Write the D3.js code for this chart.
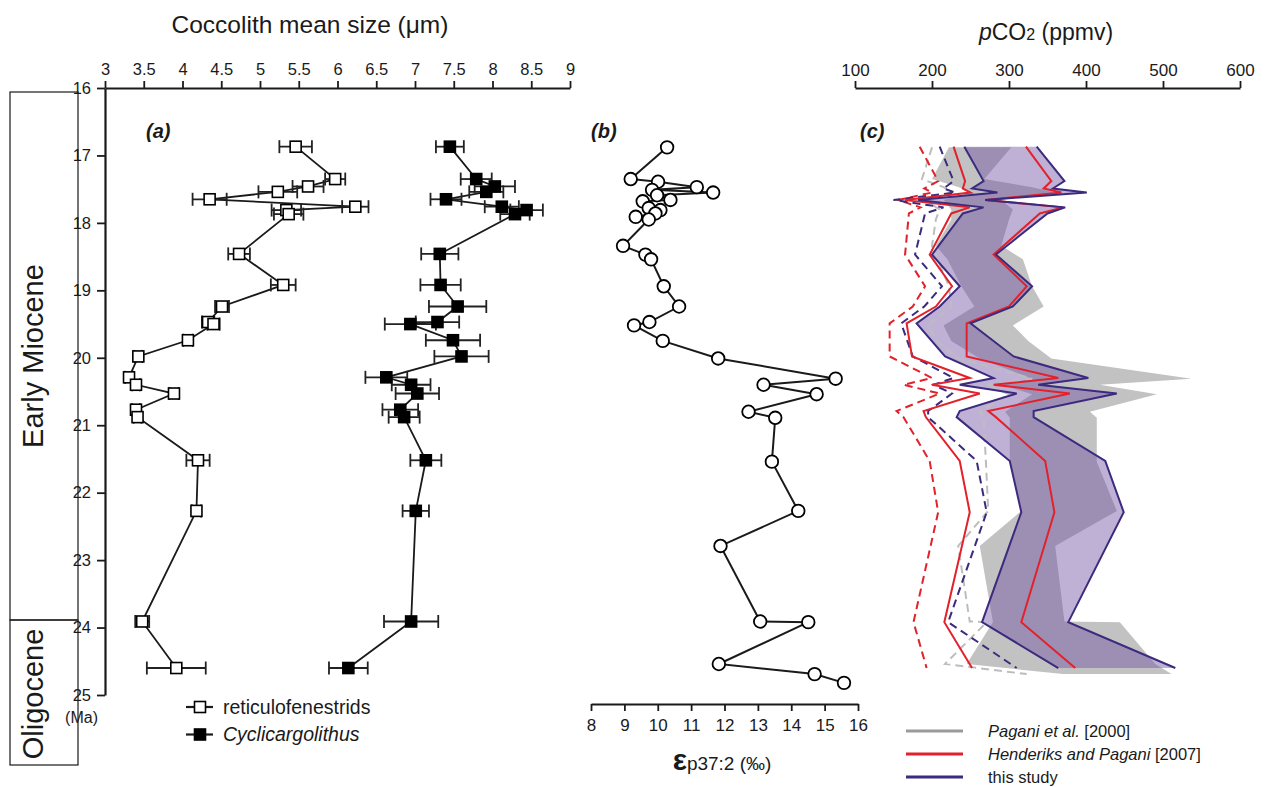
<!DOCTYPE html>
<html><head><meta charset="utf-8">
<script src="https://cdn.jsdelivr.net/npm/d3@7"></script>
<style>
body{margin:0;background:#fff;}
svg{font-family:"Liberation Sans",Arial,Helvetica,sans-serif;}
</style></head><body>
<svg id="chart" width="1265" height="787"></svg>
<script>
// ---------- DATA ----------
const sizeTicks = [3,3.5,4,4.5,5,5.5,6,6.5,7,7.5,8,8.5,9];
const ageTicks = [16,17,18,19,20,21,22,23,24,25];
const epsTicks = [8,9,10,11,12,13,14,15,16];
const co2Ticks = [100,200,300,400,500,600];

// panel (a)
const sizeAges = [16.87,17.35,17.46,17.54,17.65,17.76,17.81,17.87,18.46,18.92,19.24,19.47,19.50,19.74,19.98,20.29,20.40,20.53,20.77,20.88,21.52,22.27,23.91,24.60];
const reticSize = [5.46,5.97,5.62,5.23,4.35,6.23,5.34,5.37,4.73,5.30,4.51,4.33,4.40,4.07,3.43,3.31,3.40,3.89,3.40,3.42,4.20,4.18,3.48,3.92];
const reticErr  = [0.21,0.13,0.20,0.25,0.22,0.17,0.19,0.19,0.14,0.16,0.09,0.08,0.08,0.06,0.05,0.05,0.05,0.06,0.05,0.05,0.15,0.06,0.09,0.38];
const cycloSize = [7.45,7.79,8.03,7.92,7.40,8.12,8.44,8.29,7.32,7.33,7.55,7.29,6.94,7.49,7.60,6.63,6.95,7.03,6.81,6.86,7.14,7.01,6.95,6.14];
const cycloErr  = [0.18,0.20,0.26,0.22,0.20,0.22,0.21,0.19,0.24,0.26,0.37,0.28,0.33,0.35,0.35,0.27,0.25,0.28,0.23,0.20,0.20,0.17,0.35,0.25];

// panel (b)
const epsAges = [16.88,17.35,17.39,17.47,17.51,17.55,17.59,17.66,17.68,17.78,17.81,17.86,17.91,17.95,18.34,18.47,18.54,18.94,19.24,19.47,19.52,19.75,20.01,20.31,20.40,20.54,20.80,20.89,21.54,22.27,22.79,23.91,23.92,24.54,24.69,24.82];
const epsVals = [10.28,9.19,10.01,11.17,9.83,11.66,9.98,10.38,9.55,9.73,10.08,9.93,9.34,9.73,8.96,9.63,9.80,10.18,10.64,9.75,9.29,10.15,11.81,15.33,13.17,14.76,12.72,13.52,13.42,14.21,11.88,13.07,14.51,11.83,14.70,15.58];

// panel (c) — Pagani et al. 2000 range (grey band)
const pagAges = [16.88,17.35,17.47,17.55,17.66,17.80,17.95,18.34,18.54,18.94,19.24,19.52,19.75,20.01,20.31,20.40,20.54,20.80,20.89,21.54,22.27,22.79,23.91,23.92,24.54,24.69];
const pagLo = [222,200,235,250,215,225,225,205,220,238,255,215,225,262,330,290,330,295,301,301,316,262,279,279,245,370];
const pagHi = [303,268,330,360,290,305,300,290,318,330,345,305,325,355,537,418,492,405,414,414,440,360,372,444,490,511];
// Pagani grey dashed
const pagDashAges = [16.88,17.35,17.47,17.55,17.66,17.80,17.95,18.34,18.94,19.24,19.52,19.75,20.01,20.31,20.40,20.54,20.80,20.89,21.54,22.27,22.79,23.91,23.92,24.54,24.69];
const pagDash = [200,187,215,225,190,210,205,200,222,225,195,206,235,330,270,300,262,267,270,273,234,249,271,217,323];

// this study & Henderiks and Pagani 2007
const co2Ages = [16.87,17.38,17.49,17.55,17.66,17.77,17.86,18.47,18.94,19.24,19.49,19.98,20.30,20.40,20.53,20.79,20.88,21.53,22.29,23.92,24.60];
const studyHi = [336,372,357,401,269,373,350,283,330,305,250,306,403,338,440,332,332,425,449,377,516];
const studyLo = [242,267,252,285,182,267,240,200,236,210,180,217,280,236,310,236,232,301,316,265,364];
const hpHi    = [322,355,345,368,269,370,340,280,323,300,245,245,364,280,379,273,283,347,359,316,386];
const hpLo    = [228,243,240,250,165,249,225,197,226,205,167,174,249,200,262,189,192,236,249,216,252];
const studyDash = [210,228,215,230,150,215,191,178,213,190,160,175,228,202,226,195,195,258,271,221,310];
const hpDash    = [184,208,190,200,156,185,170,165,191,175,145,145,200,163,210,154,163,197,208,176,193];

// ---------- SCALES ----------
const svg = d3.select("#chart");
const y  = d3.scaleLinear().domain([16,25]).range([88,695]);
const xA = d3.scaleLinear().domain([3,9]).range([105,570]);
const xB = d3.scaleLinear().domain([8,16]).range([591,858]);
const xC = d3.scaleLinear().domain([100,600]).range([855,1240]);

const ink = "#1a1a1a";
function styleAxis(g, fs){
  g.select(".domain").attr("stroke", ink).attr("stroke-width", 2.2);
  g.selectAll(".tick line").attr("stroke", ink).attr("stroke-width", 1.8);
  g.selectAll(".tick text").attr("fill", ink).attr("font-size", fs).attr("font-family","Liberation Sans, Arial, sans-serif");
}

// ---------- PANEL (c) (drawn first, behind) ----------
const gC = svg.append("g");
const pag = pagAges.map((a,i)=>({a, lo:pagLo[i], hi:pagHi[i]}));
gC.append("path").datum(pag)
  .attr("d", d3.area().y(d=>y(d.a)).x0(d=>xC(d.lo)).x1(d=>xC(d.hi)))
  .attr("fill","#c2c2c2");
const st = co2Ages.map((a,i)=>({a, lo:studyLo[i], hi:studyHi[i]}));
gC.append("path").datum(st)
  .attr("d", d3.area().y(d=>y(d.a)).x0(d=>xC(d.lo)).x1(d=>xC(d.hi)))
  .attr("fill","rgb(112,82,164)").attr("fill-opacity",0.45);

function vline(ages, vals){ return d3.line().x((d,i)=>xC(vals[i])).y(d=>y(d))(ages); }
const purple = "#3b2a7e", red = "#e2212b", grayL = "#bdbdbd";
gC.append("path").attr("d", vline(pagDashAges, pagDash)).attr("fill","none").attr("stroke",grayL).attr("stroke-width",2).attr("stroke-dasharray","8,5");
gC.append("path").attr("d", vline(co2Ages, hpDash)).attr("fill","none").attr("stroke",red).attr("stroke-width",2).attr("stroke-dasharray","8,5");
gC.append("path").attr("d", vline(co2Ages, studyDash)).attr("fill","none").attr("stroke",purple).attr("stroke-width",2).attr("stroke-dasharray","8,5");
gC.append("path").attr("d", vline(co2Ages, hpLo)).attr("fill","none").attr("stroke",red).attr("stroke-width",2);
gC.append("path").attr("d", vline(co2Ages, hpHi)).attr("fill","none").attr("stroke",red).attr("stroke-width",2);
gC.append("path").attr("d", vline(co2Ages, studyLo)).attr("fill","none").attr("stroke",purple).attr("stroke-width",2);
gC.append("path").attr("d", vline(co2Ages, studyHi)).attr("fill","none").attr("stroke",purple).attr("stroke-width",2);

const axC = svg.append("g").attr("transform","translate(0,88)")
  .call(d3.axisTop(xC).tickValues(co2Ticks).tickSize(7).tickSizeOuter(0).tickPadding(5));
styleAxis(axC, 17);
const tC = svg.append("text").attr("x",1046).attr("y",40).attr("text-anchor","middle").attr("font-size",23).attr("fill",ink);
tC.append("tspan").attr("font-style","italic").text("p");
tC.append("tspan").text("CO");
tC.append("tspan").attr("font-size",16).text("2");
tC.append("tspan").text(" (ppmv)");
svg.append("text").attr("x",860).attr("y",138).attr("font-size",20).attr("font-weight","bold").attr("font-style","italic").attr("fill",ink).text("(c)");

// legend (c)
const legC = [["#9a9a9a",[["Pagani et al.",true],[" [2000]",false]]],
              [red,[["Henderiks and Pagani",true],[" [2007]",false]]],
              [purple,[["this study",false]]]];
legC.forEach((d,i)=>{
  const yy = 731 + i*23;
  svg.append("line").attr("x1",906).attr("x2",963).attr("y1",yy).attr("y2",yy).attr("stroke",d[0]).attr("stroke-width",3);
  const t = svg.append("text").attr("x",988).attr("y",yy+5.5).attr("font-size",16.5).attr("fill",ink);
  d[1].forEach(p=>t.append("tspan").attr("font-style",p[1]?"italic":"normal").text(p[0]));
});

// ---------- PANEL (a) ----------
const gA = svg.append("g");
function drawSeries(vals, errs, filled){
  const pts = sizeAges.map((a,i)=>({a, v:vals[i], e:errs[i]}));
  gA.append("path").datum(pts)
    .attr("d", d3.line().x(d=>xA(d.v)).y(d=>y(d.a)))
    .attr("fill","none").attr("stroke",ink).attr("stroke-width",1.8);
  const eb = gA.append("g").attr("stroke","#222").attr("stroke-width",1.8);
  pts.forEach(d=>{
    const x0 = xA(d.v-d.e), x1 = xA(d.v+d.e), yy = y(d.a);
    eb.append("line").attr("x1",x0).attr("x2",x1).attr("y1",yy).attr("y2",yy);
    eb.append("line").attr("x1",x0).attr("x2",x0).attr("y1",yy-6.5).attr("y2",yy+6.5);
    eb.append("line").attr("x1",x1).attr("x2",x1).attr("y1",yy-6.5).attr("y2",yy+6.5);
  });
  gA.append("g").selectAll("rect").data(pts).join("rect")
    .attr("x",d=>xA(d.v)-5.5).attr("y",d=>y(d.a)-5.5).attr("width",11).attr("height",11)
    .attr("fill",filled?"#000":"#fff").attr("stroke","#000").attr("stroke-width",1.6);
}
drawSeries(reticSize, reticErr, false);
drawSeries(cycloSize, cycloErr, true);

const axA = svg.append("g").attr("transform","translate(0,88)")
  .call(d3.axisTop(xA).tickValues(sizeTicks).tickSize(7).tickSizeOuter(0).tickPadding(6).tickFormat(d=>String(d)));
styleAxis(axA, 16.5);
const axY = svg.append("g").attr("transform","translate(105,0)")
  .call(d3.axisLeft(y).tickValues(ageTicks).tickSize(8).tickSizeOuter(0).tickPadding(6));
styleAxis(axY, 16.5);
svg.append("text").attr("x",310).attr("y",33).attr("text-anchor","middle").attr("font-size",24.5).attr("fill",ink).text("Coccolith mean size (μm)");
svg.append("text").attr("x",146).attr("y",138).attr("font-size",20).attr("font-weight","bold").attr("font-style","italic").attr("fill",ink).text("(a)");

// legend (a)
[["reticulofenestrids",false,"#fff"],["Cyclicargolithus",true,"#000"]].forEach((d,i)=>{
  const yy = 707 + i*27.5;
  svg.append("line").attr("x1",186).attr("x2",213).attr("y1",yy).attr("y2",yy).attr("stroke",ink).attr("stroke-width",2.2);
  svg.append("rect").attr("x",200-5.5).attr("y",yy-5.5).attr("width",11).attr("height",11).attr("fill",d[2]).attr("stroke","#000").attr("stroke-width",1.6);
  svg.append("text").attr("x",223).attr("y",yy+6.5).attr("font-size",19.5).attr("font-style",d[1]?"italic":"normal").attr("fill",ink).text(d[0]);
});

// epochs
svg.append("rect").attr("x",10).attr("y",92).attr("width",68).attr("height",528).attr("fill","none").attr("stroke",ink).attr("stroke-width",1.2);
svg.append("rect").attr("x",10).attr("y",620).attr("width",68).attr("height",145).attr("fill","none").attr("stroke",ink).attr("stroke-width",1.2);
svg.append("text").attr("transform","translate(43,356) rotate(-90)").attr("text-anchor","middle").attr("font-size",29).attr("fill",ink).text("Early Miocene");
svg.append("text").attr("transform","translate(43,694) rotate(-90)").attr("text-anchor","middle").attr("font-size",29).attr("fill",ink).text("Oligocene");
svg.append("text").attr("x",98).attr("y",723).attr("text-anchor","end").attr("font-size",16).attr("fill",ink).text("(Ma)");

// ---------- PANEL (b) ----------
const gB = svg.append("g");
const eps = epsAges.map((a,i)=>({a, v:epsVals[i]}));
gB.append("path").datum(eps).attr("d", d3.line().x(d=>xB(d.v)).y(d=>y(d.a)))
  .attr("fill","none").attr("stroke",ink).attr("stroke-width",2);
gB.selectAll("circle").data(eps).join("circle")
  .attr("cx",d=>xB(d.v)).attr("cy",d=>y(d.a)).attr("r",6.3)
  .attr("fill","#fff").attr("stroke","#000").attr("stroke-width",1.8);
const axB = svg.append("g").attr("transform","translate(0,704)")
  .call(d3.axisBottom(xB).tickValues(epsTicks).tickSize(7).tickSizeOuter(0).tickPadding(8));
styleAxis(axB, 17);
const tB = svg.append("text").attr("x",722).attr("y",770).attr("text-anchor","middle").attr("fill",ink);
tB.append("tspan").attr("font-size",30).attr("font-weight","bold").text("ε");
tB.append("tspan").attr("font-size",19).text("p37:2 (‰)");
svg.append("text").attr("x",591).attr("y",138).attr("font-size",20).attr("font-weight","bold").attr("font-style","italic").attr("fill",ink).text("(b)");
</script></body></html>
